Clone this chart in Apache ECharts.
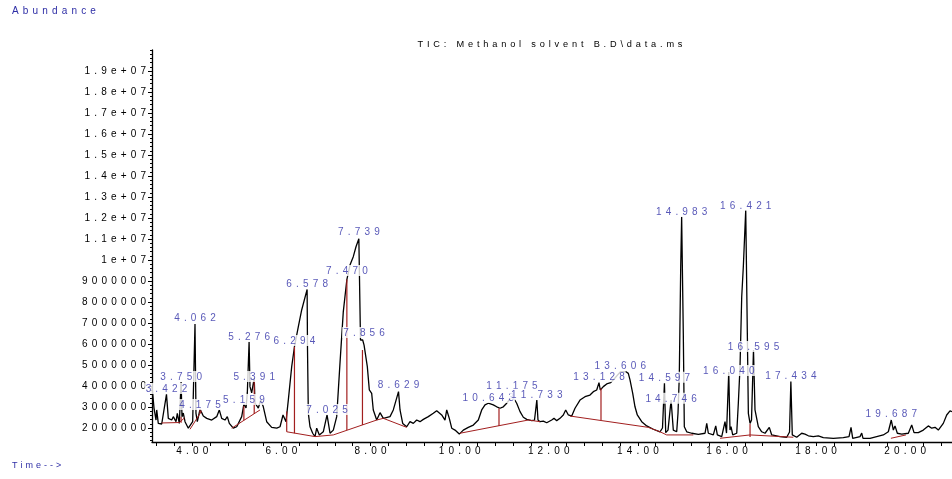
<!DOCTYPE html>
<html>
<head>
<meta charset="utf-8">
<script src="https://cdn.jsdelivr.net/npm/echarts@6/dist/echarts.min.js"></script>
<style>
  html, body { margin: 0; padding: 0; background: #fff; }
  #chart { width: 952px; height: 479px; }
</style>
</head>
<body>
<div id="chart"></div>
<script>
// TIC trace: [time (min), abundance (millions)]
const trace = [
  [3.097,4.0],[3.142,2.95],[3.187,2.38],[3.203,2.86],[3.238,2.22],[3.315,2.19],[3.422,3.60],[3.463,2.46],[3.539,2.38],[3.575,2.54],
  [3.636,2.30],[3.665,2.70],[3.710,2.22],[3.750,4.19],[3.770,2.54],[3.799,2.71],[3.838,2.30],[3.912,1.99],[3.950,1.94],[4.010,2.30],
  [4.062,6.95],[4.084,2.70],[4.114,2.30],[4.175,2.90],[4.212,2.86],[4.248,2.57],[4.325,2.46],[4.437,2.38],[4.549,2.54],[4.607,2.86],
  [4.661,2.46],[4.735,2.38],[4.787,2.54],[4.832,2.22],[4.921,1.99],[4.998,2.06],[5.110,2.54],[5.159,3.14],[5.207,2.95],[5.236,3.67],
  [5.276,6.11],[5.296,3.97],[5.334,3.67],[5.391,4.38],[5.408,3.19],[5.483,2.95],[5.536,3.33],[5.595,3.01],[5.671,2.30],[5.783,2.03],
  [5.896,1.99],[5.970,2.06],[6.037,2.62],[6.104,2.30],[6.156,3.33],[6.232,4.92],[6.294,5.87],[6.380,6.82],[6.456,7.62],[6.578,8.60],
  [6.587,5.71],[6.605,2.71],[6.643,2.06],[6.703,1.75],[6.755,1.59],[6.793,1.99],[6.852,1.67],[6.941,1.82],[7.025,2.62],[7.092,1.75],
  [7.166,1.90],[7.242,2.54],[7.316,5.10],[7.390,7.54],[7.470,9.07],[7.540,9.76],[7.614,10.16],[7.675,10.63],[7.739,11.01],[7.776,6.19],
  [7.825,6.19],[7.856,5.95],[7.929,4.92],[7.974,3.81],[8.027,3.65],[8.063,2.86],[8.140,2.38],[8.214,2.73],[8.288,2.46],[8.438,2.54],
  [8.512,2.86],[8.629,3.73],[8.663,2.86],[8.723,2.22],[8.813,2.06],[8.887,2.30],[8.961,2.22],[9.037,2.38],[9.111,2.30],[9.186,2.41],
  [9.298,2.54],[9.410,2.70],[9.486,2.82],[9.598,2.62],[9.672,2.38],[9.711,2.86],[9.769,2.46],[9.823,1.99],[9.897,1.90],[9.993,1.71],
  [10.083,1.90],[10.195,2.03],[10.308,2.14],[10.420,2.38],[10.496,2.86],[10.570,3.10],[10.644,3.18],[10.756,3.10],[10.833,3.01],[10.907,2.94],
  [10.981,3.01],[11.057,3.18],[11.131,3.38],[11.198,3.48],[11.281,3.18],[11.356,2.78],[11.430,2.51],[11.506,2.41],[11.618,2.35],[11.681,2.38],
  [11.733,3.33],[11.759,2.38],[11.804,2.30],[11.878,2.33],[11.955,2.25],[12.067,2.38],[12.119,2.46],[12.179,2.35],[12.253,2.46],[12.327,2.62],
  [12.381,2.86],[12.440,2.62],[12.516,2.57],[12.590,2.94],[12.702,3.33],[12.814,3.49],[12.926,3.57],[13.001,3.73],[13.077,3.81],[13.128,4.16],
  [13.157,3.81],[13.225,3.97],[13.301,4.10],[13.391,4.16],[13.487,4.38],[13.606,4.67],[13.734,4.68],[13.786,4.60],[13.824,4.29],[13.885,3.65],
  [13.936,3.01],[13.988,2.62],[14.087,2.30],[14.199,2.10],[14.347,1.94],[14.497,1.82],[14.553,2.00],[14.597,4.13],[14.625,1.78],[14.677,1.90],
  [14.746,3.33],[14.796,1.90],[14.872,1.82],[14.901,2.70],[14.930,4.44],[14.962,9.68],[14.983,12.06],[15.020,6.51],[15.043,2.06],[15.097,1.82],
  [15.209,1.75],[15.358,1.70],[15.508,1.75],[15.546,2.22],[15.582,1.75],[15.694,1.67],[15.748,2.10],[15.784,1.67],[15.882,1.59],[15.956,2.30],
  [15.990,1.76],[16.040,4.67],[16.068,1.90],[16.091,2.06],[16.129,1.67],[16.219,1.75],[16.255,3.18],[16.293,4.92],[16.331,8.25],[16.367,9.68],
  [16.421,12.38],[16.457,6.51],[16.480,2.70],[16.518,2.22],[16.551,2.38],[16.595,5.71],[16.629,2.86],[16.667,2.89],[16.703,2.06],[16.780,1.82],
  [16.854,1.75],[16.950,2.03],[17.004,1.67],[17.191,1.59],[17.341,1.56],[17.404,1.81],[17.434,4.21],[17.466,1.67],[17.565,1.56],[17.677,1.75],
  [17.751,1.71],[17.826,1.63],[17.938,1.59],[18.050,1.62],[18.162,1.54],[18.387,1.51],[18.611,1.54],[18.739,1.59],[18.784,2.03],[18.822,1.51],
  [18.986,1.59],[19.024,1.76],[19.053,1.51],[19.210,1.51],[19.360,1.59],[19.508,1.67],[19.621,1.82],[19.687,2.38],[19.734,1.90],[19.771,2.10],
  [19.823,1.75],[19.922,1.71],[20.070,1.75],[20.146,2.14],[20.198,1.78],[20.294,1.78],[20.406,1.90],[20.518,2.10],[20.595,1.99],[20.669,2.03],
  [20.743,1.90],[20.855,2.22],[20.931,2.62],[21.005,2.82],[21.050,2.78]
];

// integrated peaks: retention time and apex abundance (millions)
const peakTimes   = [3.422, 3.750, 4.062, 4.175, 5.159, 5.276, 5.391, 6.294, 6.578, 7.025, 7.470, 7.739, 7.856, 8.629,
                     10.643, 11.175, 11.733, 13.128, 13.606, 14.597, 14.746, 14.983, 16.040, 16.421, 16.595, 17.434, 19.687];
const peakHeights = [3.57, 4.14, 6.95, 2.81, 3.05, 6.05, 4.14, 5.86, 8.57, 2.57, 9.19, 11.05, 6.24, 3.76,
                     3.14, 3.71, 3.29, 4.14, 4.67, 4.10, 3.10, 12.0, 4.43, 12.29, 5.57, 4.19, 2.38];

// integration baselines [time, abundance (millions)]
const baselines = [
  [[3.315,2.24],[3.710,2.26],[3.826,2.48]],
  [[3.950,1.94],[4.212,2.81]],
  [[4.886,1.99],[5.521,2.86]],
  [[6.120,1.82],[6.755,1.59],[7.166,1.67],[8.140,2.38],[8.288,2.46],[8.813,2.03]],
  [[10.009,1.75],[11.542,2.38],[11.804,2.30]],
  [[12.477,2.57],[14.235,2.03],[14.497,1.82],[14.648,1.67],[15.245,1.67]],
  [[15.844,1.51],[16.518,1.67],[17.489,1.56]],
  [[19.679,1.51],[20.016,1.67]]
];
// drop lines: [time, from, to] (millions)
const dropLines = [
  [3.750,2.25,2.54],[4.175,2.71,2.90],[5.159,2.37,3.05],[5.391,2.67,4.24],[6.120,1.82,2.78],[6.294,1.75,5.87],
  [7.470,1.90,9.07],[7.820,2.14,5.71],[10.884,2.10,2.94],[13.173,2.38,3.89],[16.518,1.57,2.19]
];

const xTickLabels = [4, 6, 8, 10, 12, 14, 16, 18, 20];
const yTickLabels = [2e6, 3e6, 4e6, 5e6, 6e6, 7e6, 8e6, 9e6, 1e7, 1.1e7, 1.2e7, 1.3e7, 1.4e7, 1.5e7, 1.6e7, 1.7e7, 1.8e7, 1.9e7];

const M = 1e6;
const FONT = 'Liberation Sans, Arial, sans-serif';
const BLUE = '#2e2ea6';
const RED = '#a21f1f';
const GAP = '\u2005\u2006';

// wide letter spacing like the instrument printout
function spaced(s, gap) {
  return s.split('').join(gap || GAP);
}

const xTicks = [];
for (let i = 8; i * 0.4 < 21.05; i++) xTicks.push(Math.round(i * 4) / 10);
const yMinor = [];
for (let i = 7; i <= 100; i++) yMinor.push(i * 2e5);

const series = [];
series.push({
  type: 'line',
  data: trace.map(p => [p[0], p[1] * M]),
  symbol: 'none',
  lineStyle: { color: '#000', width: 1.3 },
  z: 2
});
baselines.forEach(seg => {
  series.push({
    type: 'line',
    data: seg.map(p => [p[0], p[1] * M]),
    symbol: 'none',
    lineStyle: { color: RED, width: 1 },
    z: 3
  });
});
dropLines.forEach(d => {
  series.push({
    type: 'line',
    data: [[d[0], d[1] * M], [d[0], d[2] * M]],
    symbol: 'none',
    lineStyle: { color: RED, width: 1.2 },
    z: 3
  });
});
series.push({
  type: 'scatter',
  data: peakTimes.map((t, i) => [t, peakHeights[i] * M]),
  symbolSize: 0.1,
  itemStyle: { color: 'transparent' },
  label: {
    show: true,
    position: 'top',
    distance: 1,
    formatter: p => spaced(p.value[0].toFixed(3)),
    color: BLUE,
    fontSize: 10,
    fontFamily: FONT,
    lineHeight: 10,
    backgroundColor: '#fff',
    padding: [1, 1, 0, 1]
  },
  z: 5
});

const chart = echarts.init(document.getElementById('chart'));
chart.setOption({
  animation: false,
  backgroundColor: '#fff',
  grid: { left: 152, right: 0, top: 50, bottom: 37, containLabel: false },
  xAxis: {
    type: 'value',
    min: 3.097,
    max: 21.05,
    axisLine: { show: true, lineStyle: { color: '#000', width: 1.3 } },
    axisTick: { show: true, customValues: xTicks, length: 4, lineStyle: { color: '#000' } },
    axisLabel: {
      customValues: xTickLabels,
      formatter: v => spaced(v.toFixed(2)),
      color: '#000', fontSize: 10, fontFamily: FONT, margin: 4
    },
    splitLine: { show: false }
  },
  yAxis: [{
    type: 'value',
    min: 1.3333e6,
    max: 2.0e7,
    axisLine: { show: true, lineStyle: { color: '#000', width: 1.3 } },
    axisTick: { show: true, customValues: yTickLabels, length: 4, lineStyle: { color: '#000' } },
    axisLabel: {
      customValues: yTickLabels,
      formatter: v => spaced(v >= 1e7 ? (Math.round(v / 1e6) / 10) + 'e+07' : String(v)),
      color: '#000', fontSize: 10, fontFamily: FONT, margin: 6
    },
    splitLine: { show: false }
  }, {
    type: 'value',
    min: 1.3333e6,
    max: 2.0e7,
    position: 'left',
    axisLine: { show: false },
    axisTick: { show: true, customValues: yMinor, length: 2, lineStyle: { color: '#000' } },
    axisLabel: { show: false },
    splitLine: { show: false }
  }],
  graphic: [
    { type: 'text', left: 12, top: 6,
      style: { text: spaced('Abundance'), fill: BLUE, font: '10px ' + FONT } },
    { type: 'text', left: 12, top: 461,
      style: { text: spaced('Time-->', '\u2006\u2006'), fill: BLUE, font: '9px ' + FONT } },
    { type: 'text', x: 550, y: 44,
      style: { text: spaced('TIC: Methanol solvent B.D\\data.ms'), fill: '#000', font: '9.2px ' + FONT,
               textAlign: 'center', textVerticalAlign: 'middle' } }
  ],
  series: series
});
</script>
</body>
</html>
